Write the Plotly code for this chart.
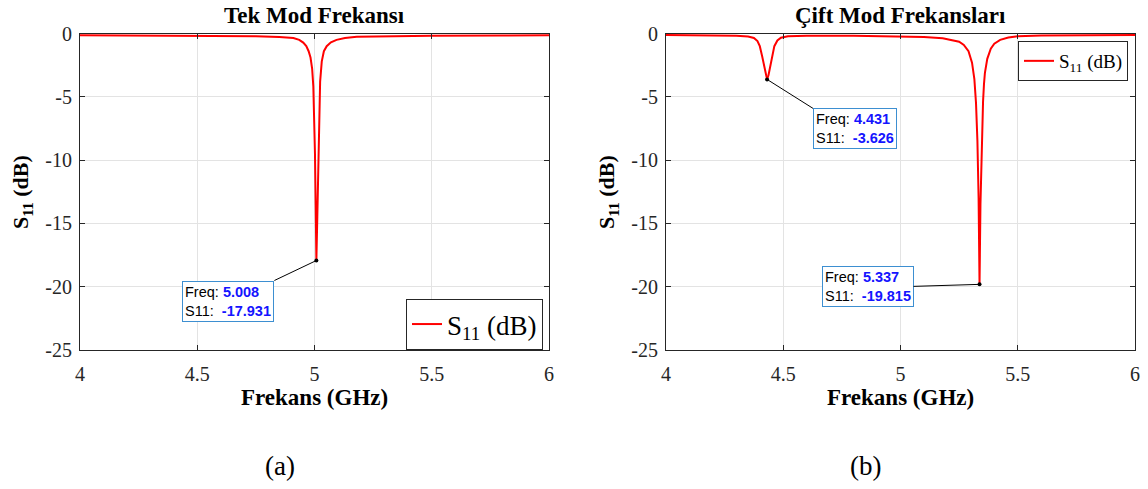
import plotly.graph_objects as go

# ---------------- data ----------------
freq_a = [4.00, 4.30, 4.60, 4.75, 4.85, 4.91, 4.935, 4.952, 4.965, 4.975, 4.983, 4.990,
          4.995, 4.999, 5.002, 5.005, 5.008, 5.012, 5.016, 5.020, 5.024, 5.031, 5.040,
          5.052, 5.070, 5.094, 5.130, 5.180, 5.300, 5.500, 5.800, 6.000]
s11_a = [-0.13, -0.15, -0.18, -0.22, -0.28, -0.35, -0.50, -0.72, -1.00, -1.40, -1.90, -2.80,
         -4.20, -6.50, -9.50, -13.5, -17.931, -14.5, -10.0, -6.0, -3.8, -2.2, -1.4,
         -1.0, -0.70, -0.50, -0.35, -0.25, -0.20, -0.17, -0.15, -0.14]

freq_b = [4.00, 4.20, 4.30, 4.35, 4.375, 4.39, 4.40, 4.41, 4.418, 4.425, 4.431, 4.437,
          4.444, 4.452, 4.462, 4.475, 4.49, 4.52, 4.60, 4.80, 5.00, 5.10, 5.18, 5.22,
          5.25, 5.27, 5.29, 5.305, 5.315, 5.322, 5.328, 5.333, 5.337, 5.341, 5.346,
          5.349, 5.352, 5.356, 5.36, 5.37, 5.385, 5.40, 5.425, 5.46, 5.50, 5.60, 5.80, 6.00]
s11_b = [-0.12, -0.14, -0.18, -0.24, -0.35, -0.60, -1.00, -1.80, -2.60, -3.30, -3.626, -3.30,
         -2.60, -1.80, -1.00, -0.55, -0.33, -0.22, -0.18, -0.18, -0.22, -0.28, -0.38, -0.50,
         -0.65, -0.90, -1.40, -2.30, -3.60, -5.50, -8.50, -13.0, -19.815, -13.5, -9.0,
         -7.0, -5.4, -4.0, -3.1, -2.0, -1.2, -0.8, -0.5, -0.32, -0.22, -0.16, -0.13, -0.12]

tips_a = [5.008]
tips_b = [4.431, 5.337]

x_ticks = [4, 4.5, 5, 5.5, 6]
x_labels = ["4", "4.5", "5", "5.5", "6"]
y_ticks = [0, -5, -10, -15, -20, -25]
y_labels = ["0", "-5", "-10", "-15", "-20", "-25"]

titles = ["Tek Mod Frekansı", "Çift Mod Frekansları"]
captions = ["(a)", "(b)"]

# ---------------- figure ----------------
W, H = 1148, 489
SERIF = "Liberation Serif"
SANS = "Liberation Sans"
AX = "#262626"
GRID = "#e3e3e3"
BLUE_BORDER = "#3d8fd1"

fig = go.Figure()

def px_x(p):
    return p / W

def px_y(p):
    return 1 - p / H

dom_x = [[px_x(80), px_x(549)], [px_x(666), px_x(1135)]]
dom_y = [px_y(350), px_y(33.5)]

fig.add_trace(go.Scatter(x=freq_a, y=s11_a, mode="lines", line=dict(color="#ff0000", width=2),
                         name="S<sub>11</sub> (dB)", xaxis="x", yaxis="y", legend="legend"))
fig.add_trace(go.Scatter(x=freq_b, y=s11_b, mode="lines", line=dict(color="#ff0000", width=2),
                         name="S<sub>11</sub> (dB)", xaxis="x2", yaxis="y2", legend="legend2"))

def lookup(fs, ss, f):
    i = min(range(len(fs)), key=lambda k: abs(fs[k] - f))
    return fs[i], ss[i]

pts_a = [lookup(freq_a, s11_a, f) for f in tips_a]
pts_b = [lookup(freq_b, s11_b, f) for f in tips_b]

fig.add_trace(go.Scatter(x=[p[0] for p in pts_a], y=[p[1] for p in pts_a], mode="markers",
                         marker=dict(color="black", size=4), showlegend=False,
                         xaxis="x", yaxis="y", hoverinfo="skip"))
fig.add_trace(go.Scatter(x=[p[0] for p in pts_b], y=[p[1] for p in pts_b], mode="markers",
                         marker=dict(color="black", size=4), showlegend=False,
                         xaxis="x2", yaxis="y2", hoverinfo="skip"))

def tip_text(f, s):
    return (f'Freq: <b><span style="color:#1414ff">{f:.3f}</span></b><br>'
            f'S11:  <b><span style="color:#1414ff">{s:.3f}</span></b>')

annotations = []
tip_specs = [
    (pts_a[0], "", -42, 20, "right", "top"),
    (pts_b[0], "2", 46, 29, "left", "top"),
    (pts_b[1], "2", -66, 2, "right", "middle"),
]
for (f, s), suf, ax, ay, xa, ya in tip_specs:
    annotations.append(dict(
        x=f, y=s, xref="x" + suf, yref="y" + suf, text=tip_text(f, s),
        showarrow=True, arrowhead=0, arrowwidth=1, arrowcolor="black",
        ax=ax, ay=ay, xanchor=xa, yanchor=ya, align="left",
        font=dict(family=SANS, size=14.5, color="black"),
        bgcolor="white", bordercolor=BLUE_BORDER, borderwidth=1, borderpad=2,
        standoff=0, startstandoff=0))

for i in range(2):
    cx = (dom_x[i][0] + dom_x[i][1]) / 2
    annotations.append(dict(x=cx, y=px_y(16), xref="paper", yref="paper",
                            text=f"<b>{titles[i]}</b>", showarrow=False,
                            font=dict(family=SERIF, size=23, color="black"),
                            xanchor="center", yanchor="middle"))
    annotations.append(dict(x=cx, y=px_y(397), xref="paper", yref="paper",
                            text="<b>Frekans (GHz)</b>", showarrow=False,
                            font=dict(family=SERIF, size=23, color="black"),
                            xanchor="center", yanchor="middle"))
    ylx = 22 if i == 0 else 608
    annotations.append(dict(x=px_x(ylx), y=px_y(192), xref="paper", yref="paper",
                            text="<b>S<sub>11</sub> (dB)</b>", showarrow=False, textangle=-90,
                            font=dict(family=SERIF, size=22, color="black"),
                            xanchor="center", yanchor="middle"))
    capx = 280 if i == 0 else 865
    annotations.append(dict(x=px_x(capx), y=px_y(466), xref="paper", yref="paper",
                            text=captions[i], showarrow=False,
                            font=dict(family=SERIF, size=27, color="black"),
                            xanchor="center", yanchor="middle"))

axis_common = dict(showline=True, linecolor=AX, linewidth=1, mirror="ticks",
                   ticks="inside", ticklen=5, tickcolor=AX, tickwidth=1,
                   showgrid=True, gridcolor=GRID, gridwidth=1, zeroline=False,
                   automargin=False,
                   tickfont=dict(family=SERIF, size=20, color=AX))

xax = dict(range=[4, 6], tickvals=x_ticks, ticktext=x_labels, ticklabelstandoff=6, **axis_common)
yax = dict(range=[-25, 0], tickvals=y_ticks, ticktext=y_labels, ticklabelstandoff=3, **axis_common)

fig.update_layout(
    template="none",
    width=W, height=H, margin=dict(l=0, r=0, t=0, b=0, pad=0, autoexpand=False),
    paper_bgcolor="white", plot_bgcolor="white",
    font=dict(family=SERIF),
    xaxis=dict(domain=dom_x[0], anchor="y", **xax),
    yaxis=dict(domain=dom_y, anchor="x", **yax),
    xaxis2=dict(domain=dom_x[1], anchor="y2", **xax),
    yaxis2=dict(domain=dom_y, anchor="x2", **yax),
    legend=dict(x=px_x(543), y=px_y(299), xanchor="right", yanchor="top",
                bgcolor="white", bordercolor=AX, borderwidth=1,
                font=dict(family=SERIF, size=27, color="black"),
                itemwidth=30, tracegroupgap=0),
    legend2=dict(x=px_x(1128), y=px_y(41), xanchor="right", yanchor="top",
                 bgcolor="white", bordercolor=AX, borderwidth=1,
                 font=dict(family=SERIF, size=19, color="black"),
                 itemwidth=30, tracegroupgap=0),
    annotations=annotations,
    showlegend=True,
)

fig.write_html("out.html", config={"displayModeBar": False},
               post_script="document.body.style.margin='0px';")
